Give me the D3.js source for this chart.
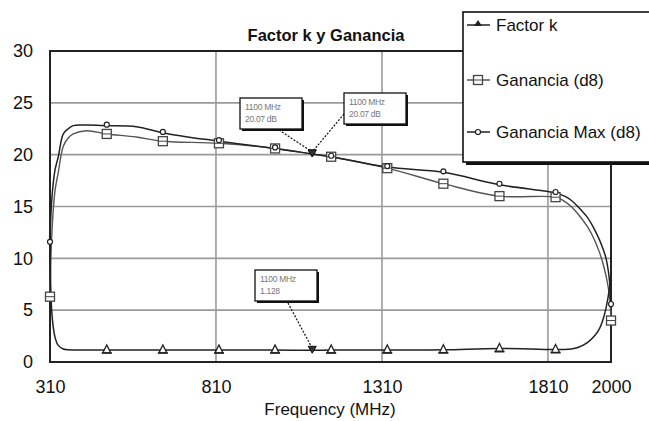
<!DOCTYPE html>
<html>
<head>
<meta charset="utf-8">
<script src="https://cdn.jsdelivr.net/npm/d3@7"></script>
<style>
  body { margin: 0; background: #fff; }
  svg { display: block; font-family: "Liberation Sans", Arial, sans-serif; }
</style>
</head>
<body>
<div id="chart"></div>
<script>
// frequency points (MHz)
const freq = [310, 315, 325, 335, 350, 365, 380, 420, 481, 570, 650, 819, 988, 1100, 1157,
  1326, 1495, 1664, 1833, 1860, 1880, 1900, 1930, 1950, 1965, 1975, 1985, 1995, 2000];
const factorK = [15, 5.0, 2.4, 1.6, 1.25, 1.18, 1.16, 1.16, 1.16, 1.16, 1.16, 1.16, 1.16, 1.128, 1.16,
  1.16, 1.18, 1.3, 1.2, 1.2, 1.25, 1.4, 1.9, 2.5, 3.2, 4.0, 5.2, 7.0, 8.4];
const ganancia = [6.3, 12.0, 16.5, 18.3, 20.8, 21.6, 22.0, 22.3, 22.0, 21.7, 21.3, 21.1, 20.6, 20.07, 19.8,
  18.7, 17.2, 16.0, 15.9, 15.5, 15.0, 14.3, 13.0, 11.8, 10.6, 9.6, 8.3, 6.5, 4.0];
const gananciaMax = [11.5, 15.5, 18.5, 19.8, 22.0, 22.5, 22.8, 22.85, 22.8, 22.7, 22.1, 21.3, 20.6, 20.07, 19.8,
  18.8, 18.3, 17.1, 16.3, 16.0, 15.6, 15.0, 13.9, 12.8, 11.8, 11.0, 10.0, 8.0, 5.5];

// where the plotting program drew its symbols
const markerFreq = [310, 481, 650, 819, 988, 1157, 1326, 1495, 1664, 1833, 2000];

const xTicks = [310, 810, 1310, 1810, 2000];
const yTicks = [0, 5, 10, 15, 20, 25, 30];
const seriesNames = ["Factor k", "Ganancia (d8)", "Ganancia Max (d8)"];

// marker readouts at 1100 MHz
const annFreq = 1100;
const annLabels = [["1100 MHz", "20.07 dB"], ["1100 MHz", "20.07 dB"], ["1100 MHz", "1.128"]];
const annValues = [20.07, 20.07, 1.128];

const width = 649, height = 421;
const margin = {top: 51, right: 38, bottom: 59, left: 50};

const svg = d3.select("#chart").append("svg")
  .attr("width", width).attr("height", height);

const x = d3.scaleLinear().domain([310, 2000]).range([margin.left, width - margin.right]);
const y = d3.scaleLinear().domain([0, 30]).range([height - margin.bottom, margin.top]);

// grid
svg.append("g").selectAll("line.gx")
  .data(xTicks.slice(1, -1)).enter().append("line")
  .attr("x1", d => x(d)).attr("x2", d => x(d))
  .attr("y1", y(0)).attr("y2", y(30))
  .attr("stroke", "#9a9a9a").attr("stroke-width", 1.6);
svg.append("g").selectAll("line.gy")
  .data(yTicks.slice(1, -1)).enter().append("line")
  .attr("x1", x(310)).attr("x2", x(2000))
  .attr("y1", d => y(d)).attr("y2", d => y(d))
  .attr("stroke", "#9a9a9a").attr("stroke-width", 1.6);

// frame
svg.append("rect")
  .attr("x", x(310)).attr("y", y(30))
  .attr("width", x(2000) - x(310)).attr("height", y(0) - y(30))
  .attr("fill", "none").attr("stroke", "#222").attr("stroke-width", 2);

// axes
const xAxis = svg.append("g")
  .attr("transform", "translate(0," + y(0) + ")")
  .call(d3.axisBottom(x).tickValues(xTicks).tickSize(0).tickPadding(18).tickFormat(d3.format("d")));
xAxis.select(".domain").remove();
xAxis.selectAll("text").attr("font-size", 18).attr("fill", "#111")
  .attr("font-family", "Liberation Sans, Arial, sans-serif");

const yAxis = svg.append("g")
  .attr("transform", "translate(" + x(310) + ",0)")
  .call(d3.axisLeft(y).tickValues(yTicks).tickSize(0).tickPadding(17));
yAxis.select(".domain").remove();
yAxis.selectAll("text").attr("font-size", 18).attr("fill", "#111")
  .attr("font-family", "Liberation Sans, Arial, sans-serif");

svg.append("text")
  .attr("x", 330).attr("y", 415)
  .attr("text-anchor", "middle").attr("font-size", 17).attr("fill", "#111")
  .text("Frequency (MHz)");

svg.append("text")
  .attr("x", 326).attr("y", 41)
  .attr("text-anchor", "middle").attr("font-size", 16.5).attr("font-weight", "bold")
  .attr("fill", "#111")
  .text("Factor k y Ganancia");

// curves
const line = d3.line()
  .x(d => x(d[0])).y(d => y(d[1]))
  .curve(d3.curveMonotoneX);

const kData = freq.map((f, i) => [f, factorK[i]]);
const gData = freq.map((f, i) => [f, ganancia[i]]);
const mData = freq.map((f, i) => [f, gananciaMax[i]]);

const kLine = d3.line().x(d => x(d[0])).y(d => y(d[1])).curve(d3.curveMonotoneY);

svg.append("path").datum(gData)
  .attr("d", d3.line().x(d => x(d[0])).y(d => y(d[1])).curve(d3.curveCatmullRom.alpha(0.5)))
  .attr("fill", "none").attr("stroke", "#555").attr("stroke-width", 1.4);
svg.append("path").datum(mData)
  .attr("d", d3.line().x(d => x(d[0])).y(d => y(d[1])).curve(d3.curveCatmullRom.alpha(0.5)))
  .attr("fill", "none").attr("stroke", "#222").attr("stroke-width", 1.5);
svg.append("path").datum(kData)
  .attr("d", d3.line().x(d => x(d[0])).y(d => y(d[1])).curve(d3.curveCatmullRom.alpha(0.5)))
  .attr("fill", "none").attr("stroke", "#222").attr("stroke-width", 1.5);

// symbols
const atMarkers = data => data.filter(d => markerFreq.includes(d[0]));

function drawTri(g, cx, cy) {
  g.append("path")
    .attr("d", `M${cx - 4},${cy + 3}L${cx + 4},${cy + 3}L${cx},${cy - 5}Z`)
    .attr("fill", "#fff").attr("stroke", "#222").attr("stroke-width", 1.3);
  g.append("line").attr("x1", cx - 5).attr("x2", cx + 5).attr("y1", cy + 3).attr("y2", cy + 3)
    .attr("stroke", "#222").attr("stroke-width", 1.6);
}
function drawSq(g, cx, cy) {
  g.append("rect").attr("x", cx - 4.5).attr("y", cy - 4.5).attr("width", 9).attr("height", 9)
    .attr("fill", "#fff").attr("stroke", "#444").attr("stroke-width", 1.3);
  g.append("line").attr("x1", cx - 4.5).attr("x2", cx + 4.5).attr("y1", cy).attr("y2", cy)
    .attr("stroke", "#444").attr("stroke-width", 1);
}
function drawDot(g, cx, cy) {
  g.append("circle").attr("cx", cx).attr("cy", cy).attr("r", 2.5)
    .attr("fill", "#fff").attr("stroke", "#222").attr("stroke-width", 1.2);
}

const sym = svg.append("g");
atMarkers(gData).forEach(d => drawSq(sym, x(d[0]), y(d[1])));
atMarkers(mData).forEach(d => drawDot(sym, x(d[0]), y(d[1]) - 1));
atMarkers(kData).filter(d => d[0] > 310 && d[0] < 2000)
  .forEach(d => drawTri(sym, x(d[0]), y(d[1])));

// readout boxes at 1100 MHz
const annBoxes = [
  {bx: 240, by: 98, lx: 279, ly: 130},
  {bx: 344, by: 93, lx: 344, ly: 114},
  {bx: 255, by: 270, lx: 288, ly: 303}
];
const ann = svg.append("g");
annBoxes.forEach((b, i) => {
  const px = x(annFreq), py = y(annValues[i]);
  ann.append("line")
    .attr("x1", b.lx).attr("y1", b.ly).attr("x2", px).attr("y2", py - 2)
    .attr("stroke", "#111").attr("stroke-width", 1.2).attr("stroke-dasharray", "2,1.5");
  ann.append("rect").attr("x", b.bx + 2).attr("y", b.by + 2).attr("width", 62).attr("height", 31)
    .attr("fill", "#111");
  ann.append("rect").attr("x", b.bx).attr("y", b.by).attr("width", 62).attr("height", 31)
    .attr("fill", "#fff").attr("stroke", "#111").attr("stroke-width", 1.3);
  annLabels[i].forEach((t, j) => {
    ann.append("text").attr("x", b.bx + 5).attr("y", b.by + 12 + j * 12)
      .attr("font-size", 8.5).attr("fill", "#777").attr("letter-spacing", -0.3).text(t);
  });
  ann.append("path")
    .attr("d", `M${px - 4},${py - 4}L${px + 4},${py - 4}L${px},${py + 3}Z`)
    .attr("fill", "#333").attr("stroke", "#111").attr("stroke-width", 1);
});

// legend
const lg = svg.append("g");
lg.append("rect").attr("x", 466).attr("y", 15).attr("width", 200).attr("height", 150).attr("fill", "#111");
lg.append("rect").attr("x", 463).attr("y", 12).attr("width", 200).attr("height", 150)
  .attr("fill", "#fff").attr("stroke", "#111").attr("stroke-width", 1.6);
const legY = [25, 80, 132];
const legSym = [drawTri, drawSq, drawDot];
seriesNames.forEach((name, i) => {
  lg.append("line").attr("x1", 467).attr("x2", 490).attr("y1", legY[i]).attr("y2", legY[i])
    .attr("stroke", i === 1 ? "#555" : "#222").attr("stroke-width", 1.5);
  if (i === 0) {
    lg.append("path").attr("d", `M474,${legY[i] + 1}L482,${legY[i] + 1}L478,${legY[i] - 5}Z`).attr("fill", "#222");
  } else {
    legSym[i](lg, 478, legY[i]);
  }
  lg.append("text").attr("x", 496).attr("y", legY[i] + 6)
    .attr("font-size", 17).attr("fill", "#111").text(name);
});
</script>
</body>
</html>
